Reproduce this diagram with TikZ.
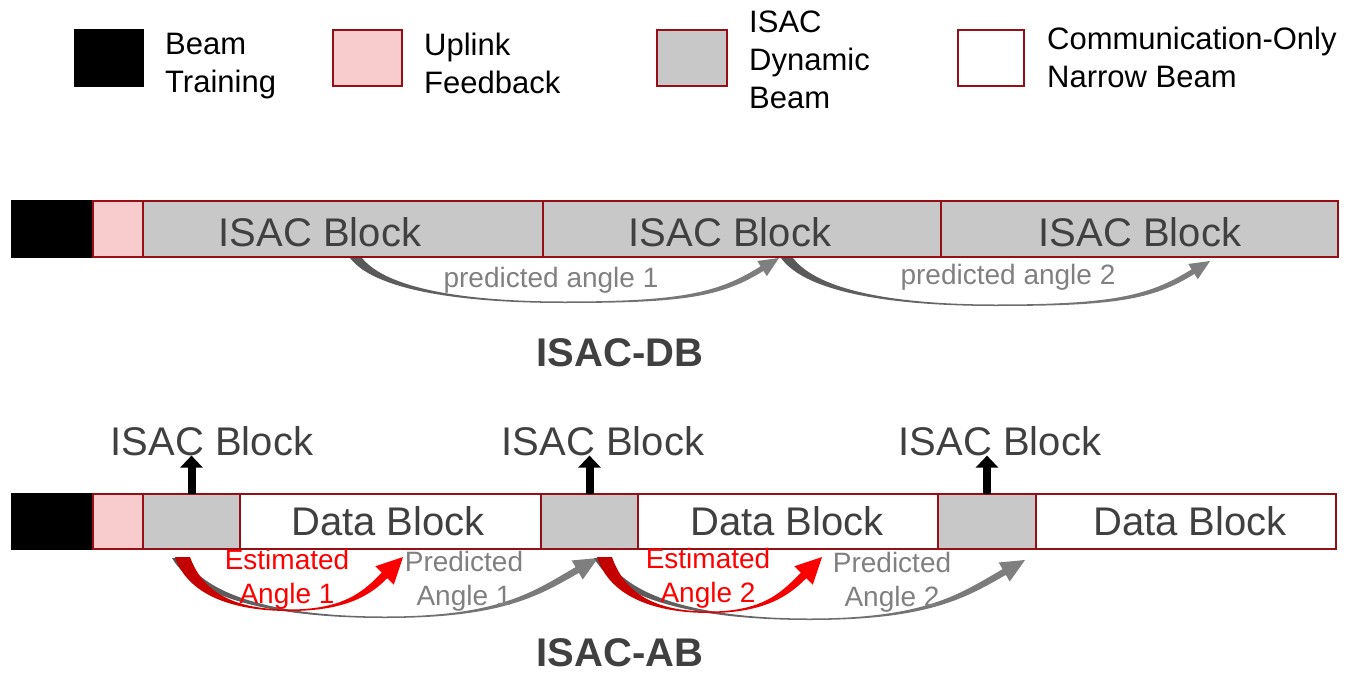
\documentclass[tikz,border=0pt]{standalone}
\usepackage{fontspec}
\setmainfont{Liberation Sans}
\usetikzlibrary{arrows.meta}
\definecolor{bred}{RGB}{150,14,22}
\definecolor{pinkf}{RGB}{248,203,205}
\definecolor{grayf}{RGB}{200,200,200}
\definecolor{txt}{RGB}{64,64,64}
\definecolor{pgray}{RGB}{128,128,128}
\definecolor{darkg}{RGB}{88,88,88}
\definecolor{darkr}{RGB}{192,0,0}
\tikzset{
 cell/.style={draw=bred, line width=2pt, inner sep=0pt, outer sep=0pt, anchor=north west},
 blackcell/.style={cell, fill=black, draw=black},
 pinkcell/.style={cell, fill=pinkf},
 graycell/.style={cell, fill=grayf},
 whitecell/.style={cell, fill=white},
 legtext/.style={anchor=west, align=left, inner sep=0pt, font=\fontsize{31}{38}\selectfont},
 bartext/.style={anchor=base, inner sep=0pt, text=txt, font=\fontsize{40}{48}\selectfont},
 titletext/.style={anchor=base, inner sep=0pt, text=txt, font=\fontsize{40}{48}\selectfont\bfseries},
 predtext/.style={inner sep=0pt, text=pgray, align=center, font=\fontsize{28}{34}\selectfont},
 esttext/.style={predtext, text=red},
 grayarrow/.style={left color=darkg, right color=pgray},
 redarrow/.style={left color=darkr, right color=red},
 uparrow/.style={-{Triangle[width=22pt,length=12pt]}, line width=8pt, black},
}
% #1 style, #2 tail x, #3 tail y, #4 tail width, #5 tip x, #6 tip y, #7 bottom y, #8 head length, #9 head half width
\newcommand\crvarrow[9]{%
\pgfmathsetmacro\cvXa{#2}\pgfmathsetmacro\cvYa{#3}
\pgfmathsetmacro\cvXw{#2+#4}
\pgfmathsetmacro\cvXt{#5}\pgfmathsetmacro\cvYt{#6}
\pgfmathsetmacro\cvYb{#7}
\pgfmathsetmacro\cvUx{cos(\cvAng)}\pgfmathsetmacro\cvUs{sin(\cvAng)}
\pgfmathsetmacro\cvCx{\cvXt-#8*\cvUx}\pgfmathsetmacro\cvCy{\cvYt+#8*\cvUs}
\pgfmathsetmacro\cvHox{\cvCx+#9*\cvUs}\pgfmathsetmacro\cvHoy{\cvCy+#9*\cvUx}
\pgfmathsetmacro\cvHix{\cvCx-#9*\cvUs}\pgfmathsetmacro\cvHiy{\cvCy-#9*\cvUx}
\pgfmathsetmacro\cvSox{\cvCx+0.3*#9*\cvUs}\pgfmathsetmacro\cvSoy{\cvCy+0.3*#9*\cvUx}
\pgfmathsetmacro\cvSix{\cvCx-0.3*#9*\cvUs}\pgfmathsetmacro\cvSiy{\cvCy-0.3*#9*\cvUx}
\pgfmathsetmacro\cvXb{(#2+#5)/2}
\pgfmathsetmacro\cvDL{\cvXb-\cvXa}
\pgfmathsetmacro\cvDR{\cvCx-\cvXb}
\pgfmathsetmacro\cvDD{\cvYb-\cvYa}
\path[#1] (\cvXa,\cvYa) .. controls (\cvXa+0.12*\cvDL,\cvYa+0.75*\cvDD) and (\cvXb-0.45*\cvDL,\cvYb) .. (\cvXb,\cvYb)
 .. controls (\cvXb+0.6*\cvDR,\cvYb) and (\cvSox-0.25*\cvDR*\cvUx,\cvSoy+0.25*\cvDR*\cvUs) .. (\cvSox,\cvSoy)
 -- (\cvHox,\cvHoy) -- (\cvXt,\cvYt) -- (\cvHix,\cvHiy) -- (\cvSix,\cvSiy)
 .. controls (\cvSix-0.25*\cvDR*\cvUx,\cvSiy+0.25*\cvDR*\cvUs) and (\cvXb+0.6*\cvDR,\cvYb-1.5) .. (\cvXb,\cvYb-1.5)
 .. controls (\cvXb-0.45*\cvDL,\cvYb-1.5) and (\cvXw+0.12*\cvDL,\cvYa+0.7*\cvDD) .. (\cvXw,\cvYa) -- cycle;
}
\begin{document}
\begin{tikzpicture}[x=1pt,y=-1pt]
\useasboundingbox (0,0) rectangle (1359,674);
% legend
\node[blackcell, minimum width=68pt, minimum height=56pt] (lg1) at (75,30) {};
\node[legtext] (lt1) at (165,66) {Beam\\Training};
\node[pinkcell, minimum width=69pt, minimum height=56pt] (lg2) at (333,30) {};
\node[legtext] (lt2) at (424,63) {Uplink\\Feedback};
\node[graycell, minimum width=70pt, minimum height=56pt] (lg3) at (657,30) {};
\node[legtext] (lt3) at (749,60) {ISAC\\Dynamic\\Beam};
\node[whitecell, minimum width=66pt, minimum height=56pt] (lg4) at (958,30) {};
\node[legtext] (lt4) at (1047,57) {Communication-Only\\Narrow Beam};
% ISAC-DB bar
\node[blackcell, minimum width=81pt, minimum height=56pt] (db0) at (12,201) {};
\node[pinkcell, minimum width=50pt, minimum height=56pt] (db1) at (93,201) {};
\node[graycell, minimum width=400pt, minimum height=56pt] (db2) at (143,201) {};
\node[graycell, minimum width=398pt, minimum height=56pt] (db3) at (543,201) {};
\node[graycell, minimum width=397pt, minimum height=56pt] (db4) at (941,201) {};
\node[bartext] (dbt2) at (320,246) {ISAC Block};
\node[bartext] (dbt3) at (730,246) {ISAC Block};
\node[bartext] (dbt4) at (1140,246) {ISAC Block};
\def\cvAng{32}
\crvarrow{grayarrow}{350}{258}{12}{779}{258}{303}{20}{9}
\crvarrow{grayarrow}{781}{258}{12}{1210}{261}{306}{20}{9}
\node[predtext, anchor=base] (pa1) at (551,287) {predicted angle 1};
\node[predtext, anchor=base] (pa2) at (1008,284) {predicted angle 2};
\node[titletext] (tdb) at (620,366) {ISAC-DB};
% ISAC-AB bar
\node[blackcell, minimum width=81pt, minimum height=55pt] (ab0) at (12,494) {};
\node[pinkcell, minimum width=50pt, minimum height=55pt] (ab1) at (93,494) {};
\node[graycell, minimum width=97pt, minimum height=55pt] (ab2) at (143,494) {};
\node[whitecell, minimum width=301pt, minimum height=55pt] (ab3) at (240,494) {};
\node[graycell, minimum width=97pt, minimum height=55pt] (ab4) at (541,494) {};
\node[whitecell, minimum width=300pt, minimum height=55pt] (ab5) at (638,494) {};
\node[graycell, minimum width=98pt, minimum height=55pt] (ab6) at (938,494) {};
\node[whitecell, minimum width=300pt, minimum height=55pt] (ab7) at (1036,494) {};
\node[bartext] (abt3) at (388,535) {Data Block};
\node[bartext] (abt5) at (787,535) {Data Block};
\node[bartext] (abt7) at (1190,535) {Data Block};
\node[bartext] (il1) at (212,455) {ISAC Block};
\node[bartext] (il2) at (603,455) {ISAC Block};
\node[bartext] (il3) at (1000,455) {ISAC Block};
\draw[uparrow] (ab2.north) -- (ab2.north |- il1.south);
\draw[uparrow] (ab4.north) -- (ab4.north |- il2.south);
\draw[uparrow] (ab6.north) -- (ab6.north |- il3.south);
\def\cvAng{30}
\crvarrow{grayarrow}{172}{558}{12}{598}{558}{618}{24}{11}
\crvarrow{grayarrow}{594}{558}{12}{1025}{560}{620}{24}{11}
\def\cvAng{45}
\crvarrow{redarrow}{175}{557}{15}{403}{557}{611}{26}{13}
\crvarrow{redarrow}{597}{557}{15}{822}{557}{613}{26}{13}
\node[esttext] (ea1) at (287,579) {Estimated\\Angle 1};
\node[predtext] (pr1) at (464,581) {Predicted\\Angle 1};
\node[esttext] (ea2) at (708,578) {Estimated\\Angle 2};
\node[predtext] (pr2) at (892,582) {Predicted\\Angle 2};
\node[titletext] (tab) at (620,666) {ISAC-AB};
\end{tikzpicture}
\end{document}
